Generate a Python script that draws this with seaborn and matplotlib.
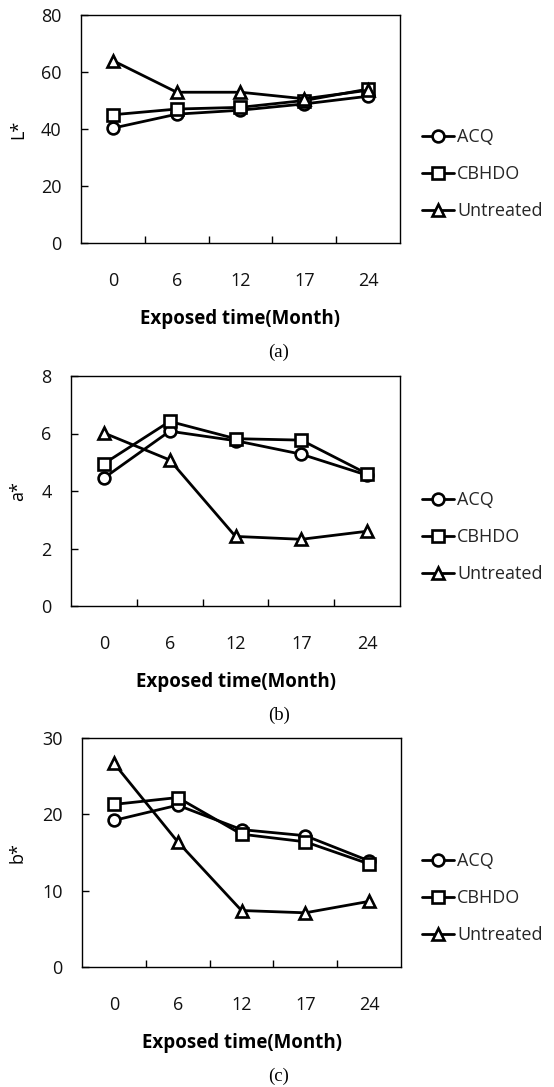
import numpy as np
import pandas as pd
import matplotlib
matplotlib.use("Agg")
import matplotlib.pyplot as plt
import seaborn as sns

# ---- data ----
months = ["0", "6", "12", "17", "24"]
treatments = ["ACQ", "CBHDO", "Untreated"]

L_acq = [40.3, 45.2, 46.6, 48.8, 51.5]
L_cbhdo = [45.0, 47.0, 47.6, 50.0, 54.0]
L_untreated = [64.0, 52.9, 52.9, 50.6, 53.6]

a_acq = [4.45, 6.08, 5.75, 5.28, 4.55]
a_cbhdo = [4.95, 6.42, 5.82, 5.77, 4.60]
a_untreated = [6.02, 5.08, 2.42, 2.32, 2.60]

b_acq = [19.2, 21.2, 18.0, 17.2, 13.9]
b_cbhdo = [21.3, 22.2, 17.4, 16.4, 13.5]
b_untreated = [26.7, 16.4, 7.4, 7.1, 8.6]

y_labels = ["L*", "a*", "b*"]
y_limits = [(0, 80), (0, 8), (0, 30)]
y_ticks = [[0, 20, 40, 60, 80], [0, 2, 4, 6, 8], [0, 10, 20, 30]]
captions = ["(a)", "(b)", "(c)"]
x_title = "Exposed time(Month)"

panels = [
    (L_acq, L_cbhdo, L_untreated),
    (a_acq, a_cbhdo, a_untreated),
    (b_acq, b_cbhdo, b_untreated),
]

markers = {"ACQ": "o", "CBHDO": "s", "Untreated": "^"}

# ---- styling ----
sns.set_theme(style="white")
plt.rcParams["font.family"] = ["Open Sans", "DejaVu Sans"]

W, H = 554, 1087
fig = plt.figure(figsize=(W / 100, H / 100), dpi=100)

# axes boxes in pixels: left, right, top, bottom
boxes = [(81, 400, 15, 243), (71, 400, 376, 606), (82, 401, 738, 967)]

for i, (vals, box) in enumerate(zip(panels, boxes)):
    l, r, t, b = box
    ax = fig.add_axes([l / W, 1 - b / H, (r - l) / W, (b - t) / H])
    pos = np.arange(len(months))
    df = pd.DataFrame({
        "x": np.tile(pos, len(treatments)),
        "y": np.concatenate(vals),
        "Treatment": np.repeat(treatments, len(months)),
    })
    sns.lineplot(data=df, x="x", y="y", hue="Treatment", style="Treatment",
                 markers=markers, dashes=False,
                 palette={t_: "black" for t_ in treatments},
                 linewidth=2.0, markersize=8.5, markerfacecolor="white",
                 markeredgecolor="black", markeredgewidth=1.9,
                 legend=False, ax=ax, sort=False, errorbar=None)

    ax.set_xlim(-0.5, len(months) - 0.5)
    ax.set_ylim(*y_limits[i])
    ax.set_yticks(y_ticks[i])
    ax.set_xticks(pos)
    ax.set_xticklabels(months)
    ax.set_xticks(pos[:-1] + 0.5, minor=True)

    for s in ax.spines.values():
        s.set_visible(True)
        s.set_color("black")
        s.set_linewidth(1.0)

    ax.tick_params(axis="y", direction="in", length=5, width=1, color="black",
                   labelsize=13, pad=14, left=True, labelcolor="#111111")
    ax.tick_params(axis="x", which="major", length=0, labelsize=13, pad=21,
                   labelcolor="#111111")
    ax.tick_params(axis="x", which="minor", direction="in", length=5, width=1,
                   color="black", bottom=True)

    ax.set_xlabel(x_title, fontsize=13.5, fontweight="bold", color="black")
    ax.xaxis.label.set_va("center")
    ax.xaxis.set_label_coords(0.5, -76 / (b - t))

    ax.set_ylabel(y_labels[i], fontsize=13, color="black")
    ax.yaxis.label.set_va("center")
    ax.yaxis.set_label_coords((18 - l) / (r - l), 0.5)

    fig.text(279 / W, 1 - (b + 109) / H, captions[i], ha="center", va="center",
             fontsize=13.5, family="Liberation Serif", color="black")

    lines = ax.get_lines()[:len(treatments)]
    ax.legend(handles=lines, labels=treatments, loc="center left",
              bbox_to_anchor=(422 / W, 1 - (b - 69) / H),
              bbox_transform=fig.transFigure, frameon=False,
              fontsize=13, handlelength=1.8, handletextpad=0.15,
              labelspacing=1.05, borderpad=0, borderaxespad=0)

fig.savefig("out.png", dpi=100)
